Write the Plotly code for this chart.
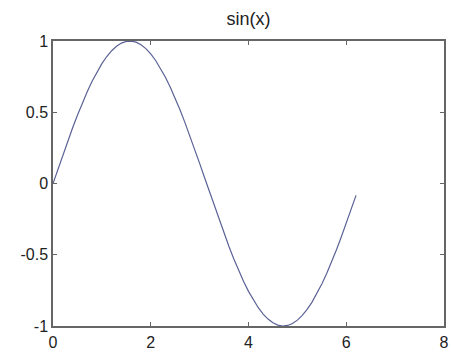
import plotly.graph_objects as go

# Sampled curve: x from 0 to 6.2 in steps of 0.1
x_vals = [0.0, 0.1, 0.2, 0.3, 0.4, 0.5, 0.6, 0.7, 0.8, 0.9,
          1.0, 1.1, 1.2, 1.3, 1.4, 1.5, 1.6, 1.7, 1.8, 1.9,
          2.0, 2.1, 2.2, 2.3, 2.4, 2.5, 2.6, 2.7, 2.8, 2.9,
          3.0, 3.1, 3.2, 3.3, 3.4, 3.5, 3.6, 3.7, 3.8, 3.9,
          4.0, 4.1, 4.2, 4.3, 4.4, 4.5, 4.6, 4.7, 4.8, 4.9,
          5.0, 5.1, 5.2, 5.3, 5.4, 5.5, 5.6, 5.7, 5.8, 5.9,
          6.0, 6.1, 6.2]
y_vals = [0.0, 0.0998, 0.1987, 0.2955, 0.3894, 0.4794, 0.5646, 0.6442, 0.7174, 0.7833,
          0.8415, 0.8912, 0.9320, 0.9636, 0.9854, 0.9975, 0.9996, 0.9917, 0.9738, 0.9463,
          0.9093, 0.8632, 0.8085, 0.7457, 0.6755, 0.5985, 0.5155, 0.4274, 0.3350, 0.2392,
          0.1411, 0.0416, -0.0584, -0.1577, -0.2555, -0.3508, -0.4425, -0.5298, -0.6119, -0.6878,
          -0.7568, -0.8183, -0.8716, -0.9162, -0.9516, -0.9775, -0.9937, -0.9999, -0.9962, -0.9825,
          -0.9589, -0.9258, -0.8835, -0.8323, -0.7728, -0.7055, -0.6313, -0.5507, -0.4646, -0.3739,
          -0.2794, -0.1822, -0.0831]

x_ticks = [0, 2, 4, 6, 8]
y_ticks = [-1, -0.5, 0, 0.5, 1]
y_tick_text = ["-1", "-0.5", "0", "0.5", "1"]

axis_color = "#666666"
font = dict(family="Liberation Sans, Arial, sans-serif", size=16, color="#222222")

fig = go.Figure(go.Scatter(
    x=x_vals, y=y_vals, mode="lines",
    line=dict(color="#5b6296", width=1.2),
    hoverinfo="skip",
))

fig.update_layout(
    width=451, height=353,
    margin=dict(l=53, r=7, t=41, b=27),
    paper_bgcolor="white", plot_bgcolor="white",
    showlegend=False,
    font=font,
    title=dict(text="sin(x)", x=0.5, xref="paper", y=1 - 19 / 353, yref="container",
               xanchor="center", yanchor="middle", automargin=False,
               font=dict(size=18, color="#222222")),
)
fig.update_xaxes(
    range=[0, 8], tickvals=x_ticks, ticks="inside", ticklen=4, tickcolor=axis_color,
    showline=True, linecolor=axis_color, linewidth=1.5, mirror="ticks",
    showgrid=False, zeroline=False, tickfont=font, automargin=False,
    ticklabelstandoff=1,
)
fig.update_yaxes(
    range=[-1, 1], tickvals=y_ticks, ticktext=y_tick_text, ticks="inside", ticklen=4,
    tickcolor=axis_color,
    showline=True, linecolor=axis_color, linewidth=1.5, mirror="ticks",
    showgrid=False, zeroline=False, tickfont=font, automargin=False,
)

fig.write_html("out.html")
